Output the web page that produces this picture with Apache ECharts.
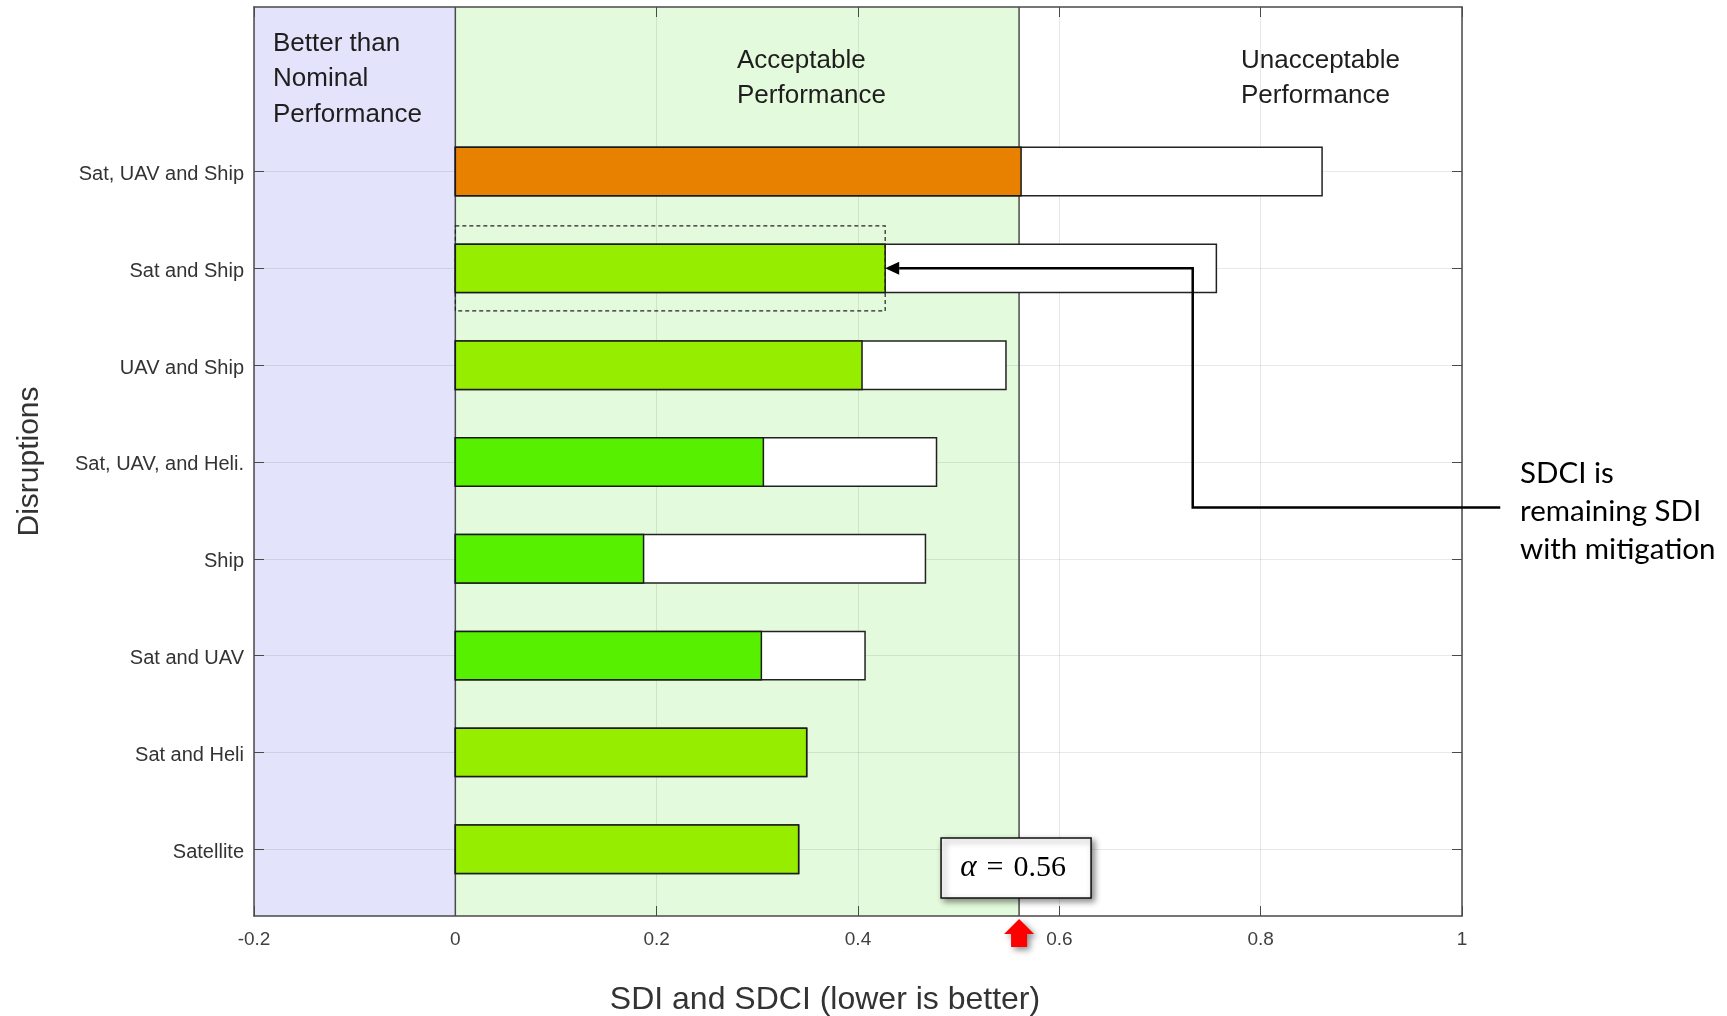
<!DOCTYPE html>
<html>
<head>
<meta charset="utf-8">
<script src="https://cdn.jsdelivr.net/npm/echarts@6/dist/echarts.min.js"></script>
<style>
  html, body { margin: 0; padding: 0; background: #ffffff; }
  #chart { width: 1727px; height: 1016px; }
</style>
</head>
<body>
<div id="chart"></div>
<script>
// Disruption scenarios, listed from the bottom row upwards
const categories = [
  'Satellite',
  'Sat and Heli',
  'Sat and UAV',
  'Ship',
  'Sat, UAV, and Heli.',
  'UAV and Ship',
  'Sat and Ship',
  'Sat, UAV and Ship'
];
// System Disruption Index (unmitigated)
const sdiValues  = [0.341, 0.349, 0.407, 0.467, 0.478, 0.547, 0.756, 0.861];
// System Disruption Consequence Index (remaining SDI with mitigation)
const sdciValues = [0.341, 0.349, 0.304, 0.187, 0.306, 0.404, 0.427, 0.562];
// Acceptability threshold
const alphaLimit = 0.56;
// Performance zones: [from, to]
const zoneRanges = [[-0.2, 0], [0, alphaLimit]];
// x-axis ticks
const xTickValues = [-0.2, 0, 0.2, 0.4, 0.6, 0.8, 1];

// ---- styling ----
const FONT = '"Liberation Sans", Arial, Helvetica, sans-serif';
const SERIF = '"Liberation Serif", "DejaVu Serif", serif';
const rowColors = ['#97ed00', '#97ed00', '#57f000', '#57f000', '#57f000', '#97ed00', '#97ed00', '#e88000'];
const zoneColors = ['#e3e3fb', '#e4fadc'];
const FRAME = '#4a4a4a';
const GRIDLINE = 'rgba(0,0,0,0.09)';
const Y_MIN = 0.31, Y_MAX = 9.7;
const BAR_HALF = 0.25;
const rowPositions = categories.map((c, i) => i + 1);

// callout pointing at the mitigated 'Sat and Ship' bar
const highlightRow = categories.indexOf('Sat and Ship');
const CALLOUT = { bendX: 0.7325, lowY: 4.53, endX: 1.038, boxHalf: 0.44 };

const chart = echarts.init(document.getElementById('chart'), null, { renderer: 'canvas' });

function axisCommon(extra) {
  return Object.assign({
    type: 'value',
    z: 3,
    axisLine: { show: true, onZero: false, lineStyle: { color: FRAME, width: 1.5 } },
    axisTick: { show: true, inside: true, length: 10, lineStyle: { color: FRAME, width: 1 } }
  }, extra);
}

const option = {
  animation: false,
  backgroundColor: '#ffffff',
  grid: { left: 254, right: 265, top: 7, bottom: 100 },
  xAxis: [
    axisCommon({
      position: 'bottom', min: -0.2, max: 1, interval: 0.2,
      axisLabel: { color: '#404040', fontSize: 19, fontFamily: FONT, margin: 14,
                   customValues: xTickValues },
      splitLine: { show: true, lineStyle: { color: GRIDLINE, width: 1 } }
    }),
    axisCommon({
      position: 'top', min: -0.2, max: 1, interval: 0.2,
      axisLabel: { show: false },
      splitLine: { show: false }
    })
  ],
  yAxis: [
    axisCommon({
      position: 'left', min: Y_MIN, max: Y_MAX,
      name: 'Disruptions', nameLocation: 'middle', nameGap: 209, nameRotate: 90,
      nameTextStyle: { color: '#333333', fontSize: 30, fontFamily: FONT },
      axisTick: { show: true, inside: true, length: 10, customValues: rowPositions, lineStyle: { color: FRAME, width: 1 } },
      axisLabel: {
        customValues: rowPositions, color: '#333333', fontSize: 20, fontFamily: FONT, margin: 10,
        verticalAlign: 'top', lineHeight: 6,
        formatter: v => categories[Math.round(v) - 1] || ''
      },
      splitLine: { show: true, lineStyle: { color: GRIDLINE, width: 1 } }
    }),
    axisCommon({
      position: 'right', min: Y_MIN, max: Y_MAX,
      axisTick: { show: true, inside: true, length: 10, customValues: rowPositions, lineStyle: { color: FRAME, width: 1 } },
      axisLabel: { show: false },
      splitLine: { show: false }
    })
  ],
  graphic: [
    { type: 'text', left: 273, top: 26, z: 10,
      style: { text: 'Better than\nNominal\nPerformance', font: '26px ' + FONT, lineHeight: 35.5, fill: '#1e1e1e' } },
    { type: 'text', left: 737, top: 43, z: 10,
      style: { text: 'Acceptable\nPerformance', font: '26px ' + FONT, lineHeight: 35.5, fill: '#1e1e1e' } },
    { type: 'text', left: 1241, top: 43, z: 10,
      style: { text: 'Unacceptable\nPerformance', font: '26px ' + FONT, lineHeight: 35.5, fill: '#1e1e1e' } },
    { type: 'text', x: 825, y: 1000, z: 10,
      style: { text: 'SDI and SDCI (lower is better)', font: '32px ' + FONT, fill: '#333333',
               textAlign: 'center', textVerticalAlign: 'middle' } },
    { type: 'text', left: 1520, top: 454, z: 10,
      style: { text: 'SDCI is\nremaining SDI\nwith mitigation', font: '29.5px Lato, "Open Sans", sans-serif',
               lineHeight: 38, fill: '#000000' } }
  ],
  series: [
    // shaded performance zones
    {
      type: 'custom', name: 'zones', z: 1, silent: true,
      data: zoneRanges.map((r, i) => [r[0], r[1], i]),
      encode: { x: [0, 1] },
      renderItem(params, api) {
        const cs = params.coordSys;
        const x0 = api.coord([api.value(0), Y_MIN])[0];
        const x1 = api.coord([api.value(1), Y_MIN])[0];
        return {
          type: 'rect',
          shape: { x: x0, y: cs.y, width: x1 - x0, height: cs.height },
          style: { fill: zoneColors[api.value(2)] }
        };
      }
    },
    // zone boundaries at 0 and alpha
    {
      type: 'custom', name: 'limits', z: 4, silent: true,
      data: [[0], [alphaLimit]],
      encode: { x: 0 },
      renderItem(params, api) {
        const cs = params.coordSys;
        const x = api.coord([api.value(0), Y_MIN])[0];
        return {
          type: 'line',
          shape: { x1: x, y1: cs.y, x2: x, y2: cs.y + cs.height },
          style: { stroke: '#4a4a4a', lineWidth: 1.5 }
        };
      }
    },
    // SDI (white) with SDCI (coloured) overlaid
    {
      type: 'custom', name: 'SDI / SDCI', z: 5,
      data: categories.map((c, i) => [rowPositions[i], sdiValues[i], sdciValues[i], i]),
      encode: { y: 0, x: [1, 2] },
      renderItem(params, api) {
        const y = api.value(0), sdi = api.value(1), sdci = api.value(2), idx = api.value(3);
        const a0 = api.coord([0, y + BAR_HALF]);
        const a1 = api.coord([sdi, y - BAR_HALF]);
        const b1 = api.coord([sdci, y - BAR_HALF]);
        return {
          type: 'group',
          children: [
            { type: 'rect', shape: { x: a0[0], y: a0[1], width: a1[0] - a0[0], height: a1[1] - a0[1] },
              style: { fill: '#ffffff', stroke: '#222222', lineWidth: 1.5 } },
            { type: 'rect', shape: { x: a0[0], y: a0[1], width: b1[0] - a0[0], height: b1[1] - a0[1] },
              style: { fill: rowColors[idx], stroke: '#1a1a1a', lineWidth: 1.5 } }
          ]
        };
      }
    },
    // callout, threshold box and marker
    {
      type: 'custom', name: 'annotations', z: 6, silent: true, clip: false,
      data: [[rowPositions[highlightRow], sdciValues[highlightRow]]],
      encode: { y: 0, x: 1 },
      renderItem(params, api) {
        const row = api.value(0), val = api.value(1);
        const cs = params.coordSys;
        const bottom = cs.y + cs.height;
        const tip = api.coord([val, row]);
        const bend = api.coord([CALLOUT.bendX, row]);
        const low = api.coord([CALLOUT.bendX, CALLOUT.lowY]);
        const end = api.coord([CALLOUT.endX, CALLOUT.lowY]);
        const boxTL = api.coord([0, row + CALLOUT.boxHalf]);
        const boxBR = api.coord([val, row - CALLOUT.boxHalf]);
        const ax = api.coord([alphaLimit, row])[0];
        const head = 14;
        const shadow = { shadowBlur: 6, shadowOffsetX: 3, shadowOffsetY: 3, shadowColor: 'rgba(0,0,0,0.45)' };
        return {
          type: 'group',
          children: [
            { type: 'rect',
              shape: { x: boxTL[0], y: boxTL[1], width: boxBR[0] - boxTL[0], height: boxBR[1] - boxTL[1] },
              style: { fill: null, stroke: '#222222', lineWidth: 1.2, lineDash: [4, 3] } },
            { type: 'polyline',
              shape: { points: [end, low, bend, [tip[0] + head, tip[1]]] },
              style: { fill: null, stroke: '#000000', lineWidth: 2.5 } },
            { type: 'polygon',
              shape: { points: [[tip[0], tip[1]], [tip[0] + head, tip[1] - 6.5], [tip[0] + head, tip[1] + 6.5]] },
              style: { fill: '#000000' } },
            { type: 'rect',
              shape: { x: ax - 78, y: bottom - 78, width: 150, height: 60 },
              style: Object.assign({ fill: '#ffffff', stroke: '#111111', lineWidth: 1.5 }, shadow) },
            { type: 'text', x: ax - 6, y: bottom - 48,
              style: {
                text: '{i|α}\u2004=\u20040.56', font: '30px ' + SERIF, fill: '#000000',
                textAlign: 'center', textVerticalAlign: 'middle',
                rich: { i: { fontStyle: 'italic', fontSize: 31, fontFamily: SERIF } }
              } },
            { type: 'polygon',
              shape: { points: [
                [ax, bottom + 3], [ax + 15, bottom + 18], [ax + 8, bottom + 18], [ax + 8, bottom + 31],
                [ax - 8, bottom + 31], [ax - 8, bottom + 18], [ax - 15, bottom + 18]
              ] },
              style: Object.assign({ fill: '#ff0000' }, shadow) }
          ]
        };
      }
    }
  ]
};

chart.setOption(option);
</script>
</body>
</html>
